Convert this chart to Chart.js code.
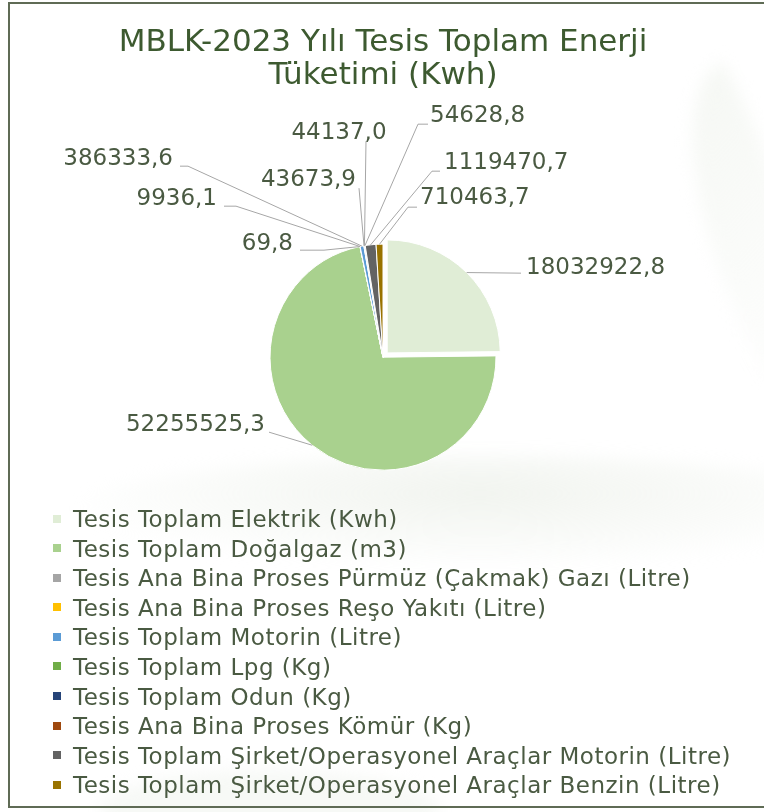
<!DOCTYPE html>
<html>
<head>
<meta charset="utf-8">
<script src="https://cdn.jsdelivr.net/npm/chart.js@4.4.0/dist/chart.umd.min.js"></script>
<style>
  html, body { margin: 0; padding: 0; background: #fff; }
  #wrap { position: relative; width: 764px; height: 812px; overflow: hidden; background: #fff; }
  .leaf { position: absolute; filter: blur(8px); }
  .swoosh { left: 80px; top: 455px; width: 800px; height: 110px; border-radius: 50%;
    background: radial-gradient(ellipse at 50% 35%, rgba(225,231,220,0.45), rgba(240,244,238,0.2) 60%, rgba(255,255,255,0) 75%); }
  .leafR { left: 690px; top: 70px; width: 110px; height: 300px; border-radius: 100% 0 100% 0;
    transform: rotate(-28deg); background: linear-gradient(160deg, rgba(238,242,235,0.6), rgba(250,251,249,0.15)); }
  .leafB { left: 100px; top: 770px; width: 340px; height: 80px; border-radius: 50%;
    background: rgba(240,243,238,0.5); }
  #frame { position: absolute; left: 8px; top: 2px; width: 820px; height: 806px;
    border: 2px solid #5f6b55; box-sizing: border-box; }
  #chart { position: absolute; left: 0; top: 0; }
  #legend { position: absolute; left: 53px; top: 505px; font-family: "DejaVu Sans", sans-serif;
    font-size: 23px; letter-spacing: 0.5px; color: #4a5a42; }
  #legend div { height: 29.6px; line-height: 29.6px; white-space: nowrap; }
  #legend .box { display: inline-block; width: 8px; height: 8px; margin-right: 12px; vertical-align: middle; position: relative; top: -2px; }
</style>
</head>
<body>
<div id="wrap">
  <div class="leaf swoosh"></div>
  <div class="leaf leafR"></div>
  <div class="leaf leafB"></div>
  <div id="frame"></div>
  <canvas id="chart" width="764" height="812"></canvas>
  <div id="legend"></div>
</div>
<script>
const categories = [
  "Tesis Toplam Elektrik (Kwh)",
  "Tesis Toplam Doğalgaz (m3)",
  "Tesis Ana Bina Proses Pürmüz (Çakmak) Gazı (Litre)",
  "Tesis Ana Bina Proses Reşo Yakıtı (Litre)",
  "Tesis Toplam Motorin (Litre)",
  "Tesis Toplam Lpg (Kg)",
  "Tesis Toplam Odun (Kg)",
  "Tesis Ana Bina Proses Kömür (Kg)",
  "Tesis Toplam Şirket/Operasyonel Araçlar Motorin (Litre)",
  "Tesis Toplam Şirket/Operasyonel Araçlar Benzin (Litre)"
];
const values = [18032922.8, 52255525.3, 69.8, 9936.1, 386333.6, 43673.9, 44137.0, 54628.8, 1119470.7, 710463.7];
const colors = ["#e0edd6", "#a9d18e", "#a5a5a5", "#ffc000", "#5b9bd5", "#70ad47", "#264478", "#9e480e", "#636363", "#997300"];
const titleLines = ["MBLK-2023 Yılı Tesis Toplam Enerji", "Tüketimi (Kwh)"];

// label placement, relative to pie centre: text x, text y, align, line end x, line end y, elbow
const labelSpots = [
  [143, -89, "left", 138, -84, 0],
  [-118, 68, "right", -114, 75, 0],
  [-90, -113, "right", -83, -107, 24],
  [-166, -158, "right", -159, -151, 12],
  [-210, -198, "right", -203, -191, 8],
  [-27, -177, "right", -24, -169, 0],
  [-44, -224, "center", -17, -216, 0],
  [47, -241, "left", 45, -233, -10],
  [61, -194, "left", 57, -186, -8],
  [37, -159, "left", 34, -150, -9]
];

const fmt = v => v.toFixed(1).replace(".", ",");

const leaderLabels = {
  id: "leaderLabels",
  afterDatasetsDraw(chart) {
    const ctx = chart.ctx;
    const arcs = chart.getDatasetMeta(0).data;
    ctx.save();
    ctx.font = "23px 'DejaVu Sans'";
    ctx.textBaseline = "middle";
    arcs.forEach((arc, i) => {
      const p = arc.getProps(["x", "y", "startAngle", "endAngle", "outerRadius"], true);
      const off = (arc.options.offset || 0) / 4; // chart.js draws offset / 4
      const mid = (p.startAngle + p.endAngle) / 2;
      const ax = p.x + Math.cos(mid) * (p.outerRadius + off);
      const ay = p.y + Math.sin(mid) * (p.outerRadius + off);
      const s = labelSpots[i];
      const ex = p.x + s[3], ey = p.y + s[4];
      ctx.strokeStyle = "#a6a6a6";
      ctx.lineWidth = 1;
      ctx.beginPath();
      ctx.moveTo(ax, ay);
      ctx.lineTo(ex + s[5], ey);
      ctx.lineTo(ex, ey);
      ctx.stroke();
      ctx.fillStyle = "#4a5a42";
      ctx.textAlign = s[2];
      ctx.fillText(fmt(values[i]), p.x + s[0], p.y + s[1]);
    });
    ctx.restore();
  }
};

const chart = new Chart(document.getElementById("chart"), {
  type: "pie",
  data: {
    labels: categories,
    datasets: [{
      data: values,
      backgroundColor: colors,
      borderColor: "#ffffff",
      borderWidth: 1,
      offset: [24, 0, 0, 0, 0, 0, 0, 0, 0, 0]
    }]
  },
  options: {
    responsive: false,
    devicePixelRatio: 1,
    animation: false,
    events: [],
    radius: 113,
    layout: { padding: { left: 2, right: 0, top: 0, bottom: 198 } },
    plugins: {
      legend: { display: false },
      tooltip: { enabled: false },
      title: {
        display: true,
        text: titleLines,
        color: "#3d5a30",
        font: { family: "DejaVu Sans", size: 31, weight: "normal", lineHeight: 1.07 },
        padding: { top: 26, bottom: 8 }
      }
    }
  },
  plugins: [leaderLabels]
});

const legend = document.getElementById("legend");
categories.forEach((name, i) => {
  const row = document.createElement("div");
  const box = document.createElement("span");
  box.className = "box";
  box.style.background = colors[i];
  row.appendChild(box);
  row.appendChild(document.createTextNode(name));
  legend.appendChild(row);
});
</script>
</body>
</html>
